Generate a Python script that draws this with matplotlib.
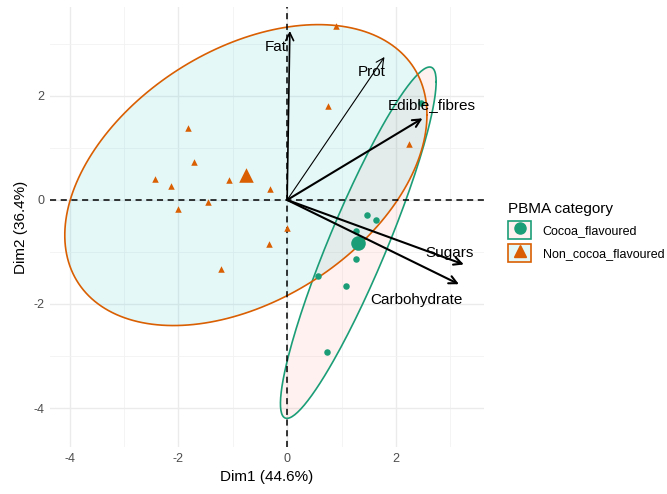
"""Biplot PCA de categorías PBMA (recreación)."""

import matplotlib

matplotlib.use("Agg")
import matplotlib.pyplot as plt
from matplotlib.lines import Line2D
from matplotlib.patches import Rectangle
from matplotlib.legend_handler import HandlerTuple
import numpy as np


# individuos (coordenadas Dim1, Dim2) por grupo
COCOA_X = [1.46, 1.64, 1.26, 1.26, 0.56, 1.09, 0.74, 2.46]
COCOA_Y = [-0.28, -0.39, -0.59, -1.13, -1.47, -1.65, -2.92, 1.86]
NONCOCOA_X = [0.89, 0.75, -1.82, -1.71, -2.43, -2.14, -1.07, -0.31, -2.0, -1.46, -0.01, -0.34, -1.22, 2.25]
NONCOCOA_Y = [3.35, 1.81, 1.39, 0.73, 0.41, 0.27, 0.38, 0.21, -0.18, -0.04, -0.53, -0.85, -1.33, 1.08]

# variables (flechas)
VARIABLES = ["Fat", "Prot", "Edible_fibres", "Sugars", "Carbohydrate"]
VAR_X = [0.05, 1.79, 2.49, 3.25, 3.16]
VAR_Y = [3.25, 2.75, 1.57, -1.24, -1.62]

GRUPOS = ["Cocoa_flavoured", "Non_cocoa_flavoured"]
COLORES = {"Cocoa_flavoured": "#1B9E77", "Non_cocoa_flavoured": "#D95F02"}
RELLENOS = {"Cocoa_flavoured": "#F8766D", "Non_cocoa_flavoured": "#00BFC4"}
MARCADORES = {"Cocoa_flavoured": "o", "Non_cocoa_flavoured": "^"}

plt.rcParams["font.family"] = ["Liberation Sans", "DejaVu Sans"]
plt.rcParams["axes.unicode_minus"] = False


def elipse_normal(x, y, nivel=0.95, segmentos=200):
    datos = np.column_stack([x, y])
    centro = datos.mean(axis=0)
    cov = np.cov(datos, rowvar=False)
    # radio chi-cuadrado con 2 g.l.
    radio = np.sqrt(-2 * np.log(1 - nivel))
    ang = np.linspace(0, 2 * np.pi, segmentos)
    circulo = np.column_stack([np.cos(ang), np.sin(ang)])
    chol = np.linalg.cholesky(cov).T
    return centro + radio * circulo @ chol


fig = plt.figure(figsize=(6.67, 4.94), dpi=100)
ax = fig.add_axes([0.075, 0.0951, 0.6506, 0.8907])

datos_grupo = {
    "Cocoa_flavoured": (COCOA_X, COCOA_Y),
    "Non_cocoa_flavoured": (NONCOCOA_X, NONCOCOA_Y),
}

for grupo in GRUPOS:
    gx, gy = datos_grupo[grupo]
    elipse = elipse_normal(gx, gy)
    ax.fill(elipse[:, 0], elipse[:, 1], color=RELLENOS[grupo], alpha=0.1, lw=0, zorder=2)
    ax.plot(elipse[:, 0], elipse[:, 1], color=COLORES[grupo], lw=1.2, zorder=3)
    ax.scatter(gx, gy, marker=MARCADORES[grupo], s=22, color=COLORES[grupo], lw=0, zorder=4)
    ax.scatter([np.mean(gx)], [np.mean(gy)], marker=MARCADORES[grupo], s=110,
               color=COLORES[grupo], lw=0, zorder=4)

ax.axhline(0, color="black", ls=(0, (4, 3)), lw=1.1, zorder=3)
ax.axvline(0, color="black", ls=(0, (4, 3)), lw=1.1, zorder=3)

desplazamientos = {
    "Fat": (-14, -16),
    "Prot": (-13, -15),
    "Edible_fibres": (9, 13),
    "Sugars": (-14, 11),
    "Carbohydrate": (-43, -16),
}
grosores = {"Fat": 1.2, "Prot": 0.8, "Edible_fibres": 1.5, "Sugars": 1.5, "Carbohydrate": 1.5}
for nombre, vx, vy in zip(VARIABLES, VAR_X, VAR_Y):
    ax.annotate("", xy=(vx, vy), xytext=(0, 0),
                arrowprops=dict(arrowstyle="->", color="black", lw=grosores[nombre],
                                shrinkA=0, shrinkB=0, mutation_scale=14), zorder=5)
    dx, dy = desplazamientos[nombre]
    ax.annotate(nombre, xy=(vx, vy), xytext=(dx, dy), textcoords="offset pixels",
                ha="center", va="center", fontsize=11, color="black", zorder=6)

ax.set_xlim(-4.36, 3.62)
ax.set_ylim(-4.75, 3.71)
ax.set_xticks([-4, -2, 0, 2])
ax.set_yticks([-4, -2, 0, 2])
ax.set_xticks([-3, -1, 1, 3], minor=True)
ax.set_yticks([-3, -1, 1, 3], minor=True)
ax.grid(which="major", color="#EBEBEB", lw=1.0)
ax.grid(which="minor", color="#F2F2F2", lw=0.6)
ax.set_axisbelow(True)
for lado in ax.spines.values():
    lado.set_visible(False)
ax.tick_params(which="both", length=0, labelsize=9, labelcolor="#4D4D4D", pad=4)
ax.set_xlabel("Dim1 (44.6%)", fontsize=11, labelpad=4)
ax.set_ylabel("Dim2 (36.4%)", fontsize=11, labelpad=4)

manijas = []
for grupo in GRUPOS:
    caja = Rectangle((0, 0), 1, 1, facecolor=RELLENOS[grupo], alpha=0.1, edgecolor="none")
    borde = Rectangle((0, 0), 1, 1, facecolor="none", edgecolor=COLORES[grupo], lw=1.2)
    marca = Line2D([], [], marker=MARCADORES[grupo], color=COLORES[grupo], ls="none", markersize=8)
    manijas.append((caja, borde, marca))

ley = fig.legend(manijas, GRUPOS, title="PBMA category", loc="center left",
                 bbox_to_anchor=(0.745, 0.53), frameon=False, fontsize=9,
                 title_fontsize=11, handler_map={tuple: HandlerTuple(ndivide=1, pad=0)},
                 handlelength=1.85, handleheight=1.85, handletextpad=0.9, labelspacing=0.4)
ley._legend_box.align = "left"

fig.savefig("out.png", dpi=100)
